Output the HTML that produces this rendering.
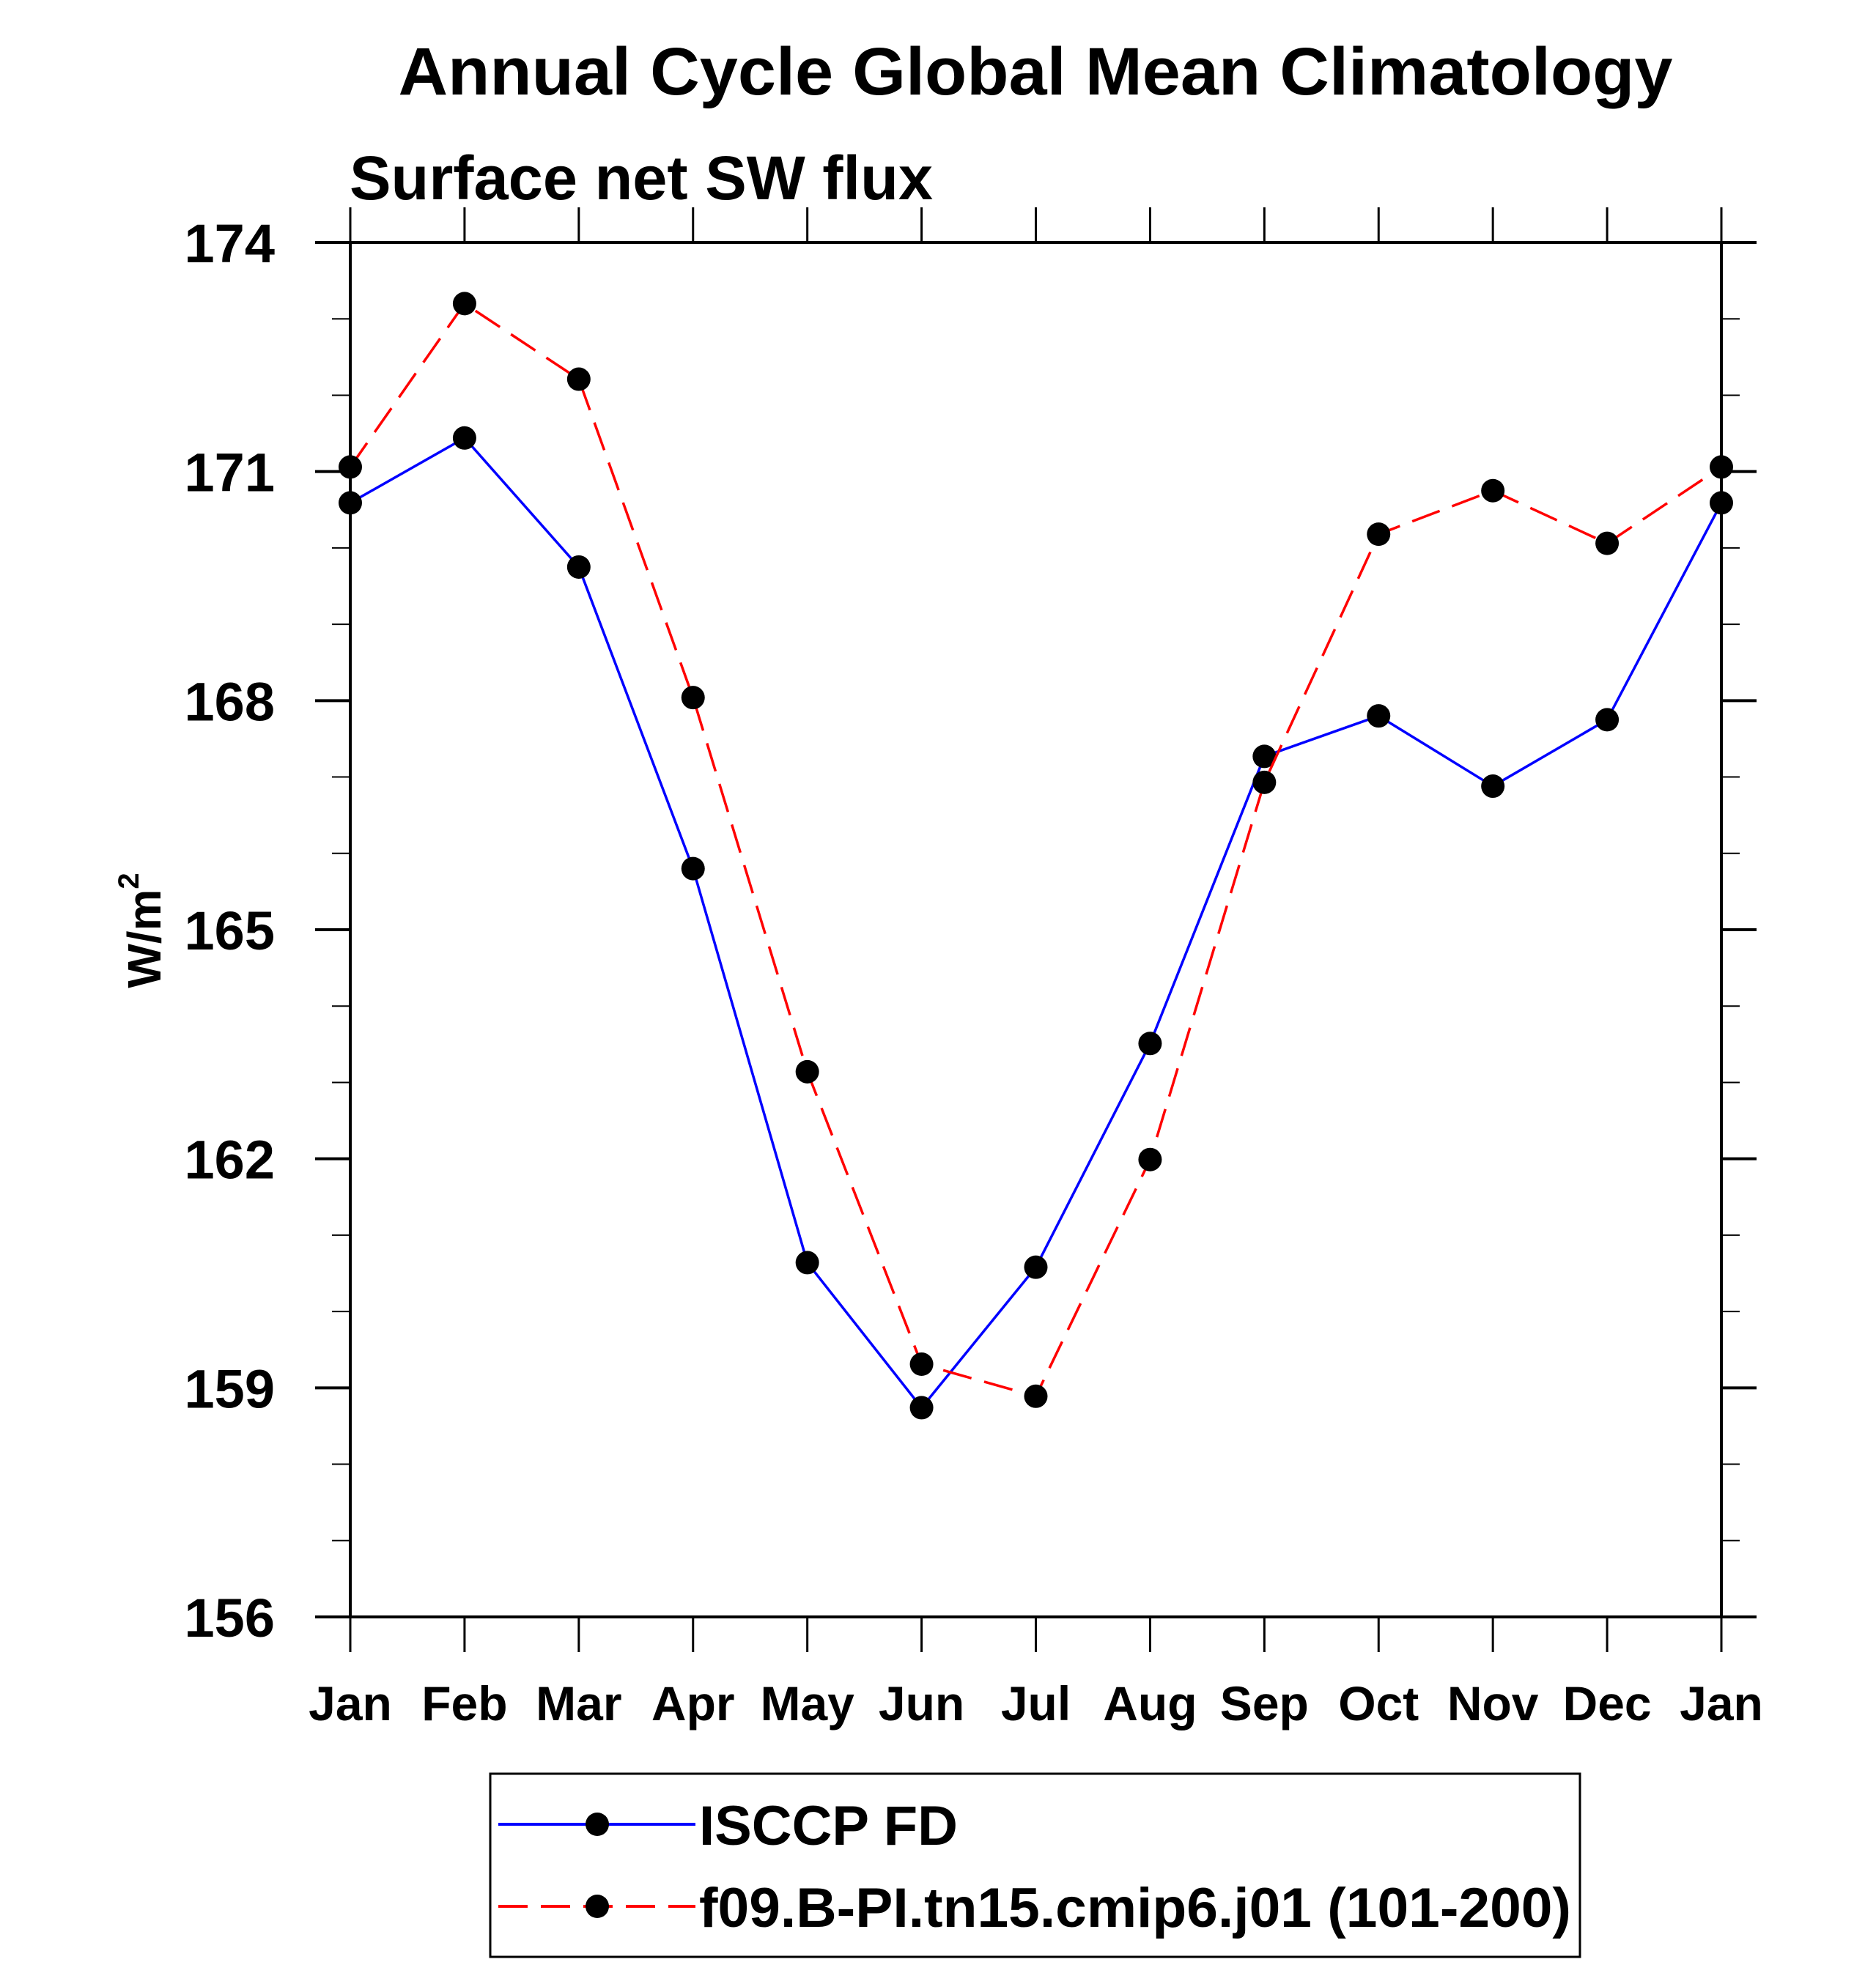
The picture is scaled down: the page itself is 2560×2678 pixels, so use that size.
<!DOCTYPE html>
<html><head><meta charset="utf-8"><style>
html,body{margin:0;padding:0;background:#fff;}
svg{display:block;font-family:"Liberation Sans",sans-serif;font-weight:bold;}
</style></head><body>
<svg id="chart" width="2560" height="2678" viewBox="0 0 2560 2678">
<text x="1413" y="129" font-size="92" text-anchor="middle" textLength="1739" lengthAdjust="spacingAndGlyphs">Annual Cycle Global Mean Climatology</text>
<text x="477" y="272" font-size="84" textLength="796" lengthAdjust="spacingAndGlyphs">Surface net SW flux</text>
<text transform="translate(219,1270) rotate(-90)" font-size="64" text-anchor="middle">W/m<tspan font-size="40" dy="-30">2</tspan></text>
<g id="axes"></g>
<g id="series"></g>
<rect x="669" y="2421" width="1487" height="250" fill="none" stroke="#000" stroke-width="3"/>
<g>
<line x1="680" y1="2490" x2="949" y2="2490" stroke="#0000ff" stroke-width="4"/>
<circle cx="815" cy="2490" r="16"/>
<text x="954" y="2518" font-size="76" textLength="353" lengthAdjust="spacingAndGlyphs">ISCCP FD</text>
</g>
<g>
<line x1="680" y1="2602" x2="949" y2="2602" stroke="#ff0000" stroke-width="4" stroke-dasharray="40 18"/>
<circle cx="815" cy="2602" r="16"/>
<text x="954" y="2630" font-size="76" textLength="1190" lengthAdjust="spacingAndGlyphs">f09.B-PI.tn15.cmip6.j01 (101-200)</text>
</g>
</svg>
<script>
const months = ["Jan","Feb","Mar","Apr","May","Jun","Jul","Aug","Sep","Oct","Nov","Dec","Jan"];
const isccpValues = [170.59,171.44,169.75,165.80,160.64,158.74,160.58,163.51,167.27,167.80,166.88,167.75,170.59];
const modelValues = [171.06,173.20,172.21,168.04,163.14,159.31,158.89,161.99,166.93,170.18,170.75,170.06,171.06];
const yTicks = [156,159,162,165,168,171,174];
const yMin = 156, yMax = 174;

const NS = "http://www.w3.org/2000/svg";
const X0 = 478, X1 = 2349, Y0 = 331, Y1 = 2207;
const xs = i => X0 + (X1 - X0) * i / (months.length - 1);
const ys = v => Y1 - (Y1 - Y0) * (v - yMin) / (yMax - yMin);
function mk(tag, attrs, parent){ const e=document.createElementNS(NS,tag); for(const k in attrs) e.setAttribute(k,attrs[k]); parent.appendChild(e); return e; }
const axes = document.getElementById('axes');
const series = document.getElementById('series');

const frame = mk('rect',{x:X0,y:Y0,width:X1-X0,height:Y1-Y0,fill:'none',stroke:'#000','stroke-width':4},axes);



// x ticks
months.forEach((m,i)=>{
  const x = xs(i);
  mk('line',{x1:x,y1:Y0-48,x2:x,y2:Y0,stroke:'#000','stroke-width':3},axes);
  mk('line',{x1:x,y1:Y1,x2:x,y2:Y1+48,stroke:'#000','stroke-width':3},axes);
  const t = mk('text',{x:x,y:2348,'font-size':66,'text-anchor':'middle'},axes);
  t.textContent = m;
  
  
});
// y minor ticks
for(let v=yMin; v<=yMax; v++){
  const y = ys(v);
  const major = yTicks.includes(v);
  const len = major ? 48 : 25;
  mk('line',{x1:X0-len,y1:y,x2:X0,y2:y,stroke:'#000','stroke-width':major?4:2},axes);
  mk('line',{x1:X1,y1:y,x2:X1+len,y2:y,stroke:'#000','stroke-width':major?4:2},axes);
}
yTicks.forEach(v=>{
  const t = mk('text',{x:375,y:ys(v)+27,'font-size':74,'text-anchor':'end'},axes);
  t.textContent = v;
  
  
});

function drawSeries(vals, color, dash, name){
  const pts = vals.map((v,i)=>xs(i)+','+ys(v)).join(' ');
  const pl = mk('polyline',{points:pts,fill:'none',stroke:color,'stroke-width':3.5},series);
  if(dash) pl.setAttribute('stroke-dasharray',dash);
  
  
  vals.forEach((v,i)=>{
    const c = mk('circle',{cx:xs(i),cy:ys(v),r:16,fill:'#000'},series);
    
    
  });
}
drawSeries(isccpValues,'#0000ff',null,'isccp-fd');
drawSeries(modelValues,'#ff0000','40 18','model-run');
</script>
</body></html>
